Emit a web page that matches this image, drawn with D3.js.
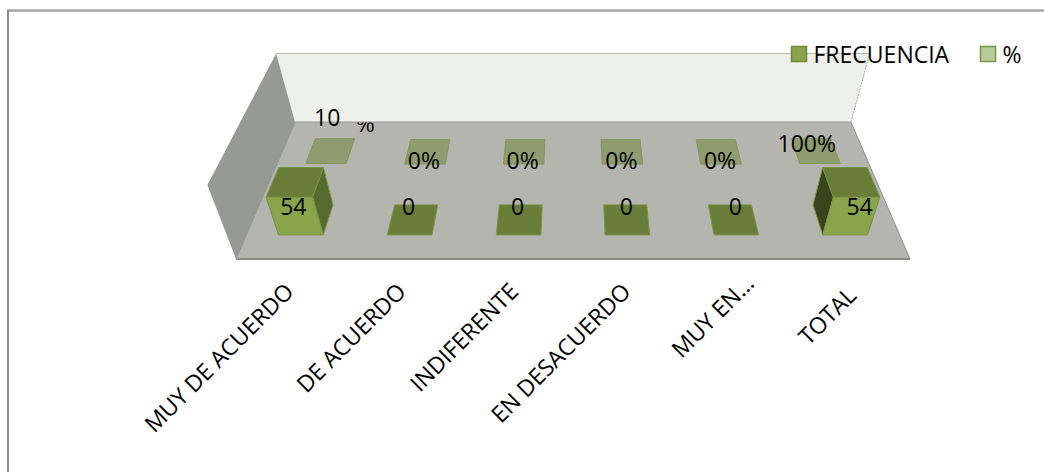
<!DOCTYPE html>
<html><head><meta charset="utf-8">
<script src="https://cdn.jsdelivr.net/npm/d3@7/dist/d3.min.js"></script>
<style>html,body{margin:0;padding:0;background:#fff}svg{display:block}text{font-family:"Open Sans",sans-serif;fill:#000}</style>
</head><body><svg id="c" width="1044" height="472"></svg>
<script>
const categories = ["MUY DE ACUERDO","DE ACUERDO","INDIFERENTE","EN DESACUERDO","MUY EN...","TOTAL"];
const frecuencia = [54,0,0,0,0,54];
const porcentaje = [1,0,0,0,0,1];
const frecuenciaLabels = ["54","0","0","0","0","54"];
const porcentajeLabels = ["10 %","0%","0%","0%","0%","100%"];
const seriesNames = ["FRECUENCIA","%"];
const valueMax = 105;

const svg = d3.select("#c");
const vpTop = {x:573,y:-523}, vpBottom = {x:573,y:1130};
const frontY = 259, floorW = 674;
const depthC = 0.2124;
const uScale = d3.scaleBand().domain(categories).range([-0.5,0.5]).paddingInner(0.59).paddingOuter(0.295);
const dScale = d3.scaleBand().domain(seriesNames).range([0,1]).paddingInner(0.6).paddingOuter(0.3);
const hScale = d3.scaleLinear().domain([0,valueMax]).range([0,1]);
const rise = d3.scaleLinear().domain([122,259]).range([0.068,0.085]);
function project(u,d,h){
  const f = (frontY-vpTop.y)/(1+depthC*d);
  const y0 = vpTop.y+f;
  const x0 = vpTop.x+u*floorW*f/(frontY-vpTop.y);
  const s = 1+rise(y0)*h;
  return [vpBottom.x+(x0-vpBottom.x)*s, vpBottom.y+(y0-vpBottom.y)*s];
}
const poly = pts => "M"+pts.map(p=>p.map(v=>v.toFixed(1)).join(",")).join("L")+"Z";

// frame: only the top and left edges are visible
svg.append("line").attr("x1",7).attr("y1",10.5).attr("x2",1044).attr("y2",10.5).attr("stroke","#a6a6a6").attr("stroke-width",2.5);
svg.append("line").attr("x1",8).attr("y1",10).attr("x2",8).attr("y2",472).attr("stroke","#8a8a8a").attr("stroke-width",2);

// walls and floor
const A=project(-.5,1,0),B=project(.5,1,0),C=project(.5,0,0),D=project(-.5,0,0),
      At=project(-.5,1,1),Bt=project(.5,1,1),Dt=project(-.5,0,1);
svg.append("path").attr("d",poly([At,Bt,B,A])).attr("fill","#eef0ea");
svg.append("path").attr("d",poly([At,A,D,Dt])).attr("fill","#979a93");
svg.append("path").attr("d",poly([A,B,C,D])).attr("fill","#b3b5ae");
svg.append("line").attr("x1",At[0]).attr("y1",At[1]).attr("x2",Bt[0]).attr("y2",Bt[1]).attr("stroke","#b4b6af").attr("stroke-width",1);
svg.append("line").attr("x1",Bt[0]).attr("y1",Bt[1]).attr("x2",B[0]).attr("y2",B[1]).attr("stroke","#aaa").attr("stroke-width",1).attr("stroke-dasharray","2 1");
svg.append("line").attr("x1",A[0]).attr("y1",A[1]).attr("x2",B[0]).attr("y2",B[1]).attr("stroke","#9b9d97").attr("stroke-width",1);
svg.append("line").attr("x1",B[0]).attr("y1",B[1]).attr("x2",C[0]).attr("y2",C[1]).attr("stroke","#8f908b").attr("stroke-width",1);
svg.append("line").attr("x1",C[0]).attr("y1",C[1]).attr("x2",D[0]).attr("y2",D[1]).attr("stroke","#8a8b87").attr("stroke-width",2);
svg.append("line").attr("x1",D[0]).attr("y1",D[1]).attr("x2",A[0]).attr("y2",A[1]).attr("stroke","#90928c").attr("stroke-width",1);

// bars: back series first
function bars(name,values,col){
  const d0=dScale(name), d1=d0+dScale.bandwidth();
  categories.forEach((cat,i)=>{
    const u0=uScale(cat), u1=u0+uScale.bandwidth(), h=hScale(values[i]);
    const g=svg.append("g").attr("class","bar").attr("stroke",col.stroke).attr("stroke-width",1).attr("stroke-linejoin","round");
    const c=project;
    if(h>0.02){
      if(u0+u1<0) g.append("path").attr("d",poly([c(u1,d0,0),c(u1,d1,0),c(u1,d1,h),c(u1,d0,h)])).attr("fill",col.sideR);
      else g.append("path").attr("d",poly([c(u0,d0,0),c(u0,d1,0),c(u0,d1,h),c(u0,d0,h)])).attr("fill",col.sideL);
      g.append("path").attr("d",poly([c(u0,d0,0),c(u1,d0,0),c(u1,d0,h),c(u0,d0,h)])).attr("fill",col.front);
    }
    g.append("path").attr("d",poly([c(u0,d0,h),c(u1,d0,h),c(u1,d1,h),c(u0,d1,h)])).attr("fill",col.top);
  });
}
bars("%",porcentaje,{top:"#8f9c70",front:"#a8bb82",sideR:"#7d8c58",sideL:"#7d8c58",stroke:"#84985a"});
bars("FRECUENCIA",frecuencia,{top:"#697d38",front:"#89a54c",sideR:"#566a2f",sideL:"#38451c",stroke:"#7a9345"});

// data labels
const labelSize = 23;
svg.append("defs").append("clipPath").attr("id","pc").append("rect")
  .attr("x",340).attr("y",122.5).attr("width",60).attr("height",20);
function label(x,y,t){ return svg.append("text").attr("x",x).attr("y",y).attr("text-anchor","middle").attr("font-size",labelSize).text(t); }
categories.forEach((cat,i)=>{
  const uc=uScale(cat)+uScale.bandwidth()/2;
  const f=dScale("FRECUENCIA"), fb=dScale.bandwidth();
  const h=hScale(frecuencia[i]);
  const xF=project(uc,f,h)[0], yF=project(uc,f+fb,0)[1]+10;
  label(xF+(h>0?(i===0?4:3):-1),yF,frecuenciaLabels[i]);
  const p=dScale("%");
  const pt=project(uc,p,0), pb=project(uc,p+fb,0);
  if(porcentaje[i]>0){
    if(i===0){
      label(pt[0]+1,126,"10");
      label(pt[0]+39,132,"%").attr("clip-path","url(#pc)");
    } else label(pt[0]-13,152,porcentajeLabels[i]);
  } else label(pt[0]-1,pb[1]+30,porcentajeLabels[i]);
});

// x axis labels
const axisOffsetX = [3,3,3,3,14,4];
const axisOffsetY = [34,34,34,34,26,38];
categories.forEach((cat,i)=>{
  const uc=uScale(cat)+uScale.bandwidth()/2;
  const p=project(uc,0,0);
  svg.append("text").attr("transform",`translate(${(p[0]+axisOffsetX[i]).toFixed(1)},${p[1]+axisOffsetY[i]}) rotate(-45)`)
    .attr("text-anchor","end").attr("font-size",23).text(cat);
});

// legend
const legendItems=[{n:seriesNames[0],x:791.5,f:"#89a54c",s:"#6f8a3c"},{n:seriesNames[1],x:980.5,f:"#b8cc96",s:"#7a9148"}];
legendItems.forEach(l=>{
  svg.append("rect").attr("x",l.x).attr("y",46.5).attr("width",15).attr("height",15).attr("fill",l.f).attr("stroke",l.s).attr("stroke-width",1.5);
  svg.append("text").attr("x",l.x+22).attr("y",63).attr("font-size",23).text(l.n);
});
</script></body></html>
